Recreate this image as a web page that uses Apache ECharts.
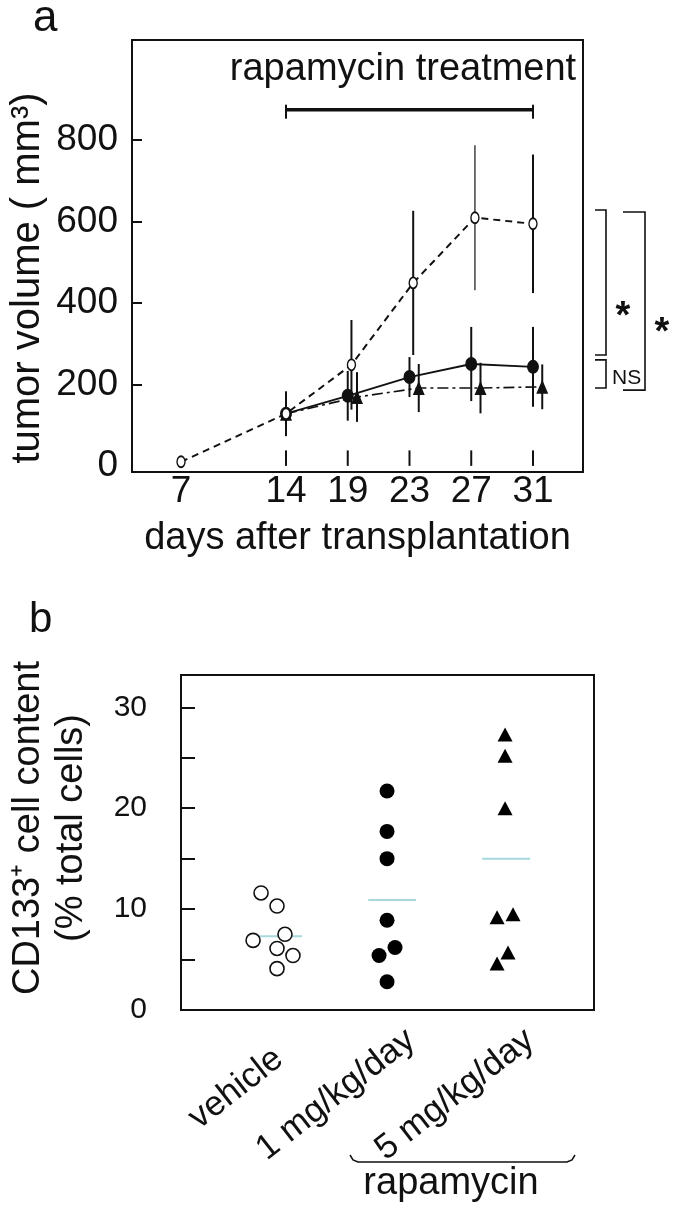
<!DOCTYPE html>
<html><head><meta charset="utf-8">
<script src="https://cdn.jsdelivr.net/npm/echarts@6/dist/echarts.min.js"></script>
<style>html,body{margin:0;padding:0;background:#fff}#c{width:679px;height:1213px}</style>
</head><body><div id="c"></div>
<script>
// ================= DATA =================
// ---- Panel a: tumor volume (mm3) vs days after transplantation ----
const dayLabels = ['7', '14', '19', '23', '27', '31'];
// ordinal position of each day on the figure's x axis (14..31 evenly spaced, wider gap 7 -> 14)
const dayAxisPos = [-1.7, 0, 1, 2, 3, 4];
const vehicleMean = [10, 128, 248, 449, 609, 594];
const vehicleSD   = [null, 55, 110, 177, 178, 170];
const rapa1Mean   = [null, 128, 172, 218, 250, 243];
const rapa1SD     = [null, null, 61, 49, 91, 98];
const rapa5Mean   = [null, 128, 169, 191, 191, 194];
const rapa5SD     = [null, null, 61, 59, 62, 55];
const volumeTickLabels = [0, 200, 400, 600, 800];
const treatmentDays = ['14', '31'];
const treatmentLevel = 874;            // mm3 level of the treatment bar
// significance brackets: [top, bottom] in mm3
const bracketVehVsRapa1 = [628, 272];
const bracketRapa1VsRapa5 = [260, 191];
const bracketVehVsRapa5 = [623, 186];
const sigLabels = [
  { text: '*', level: 387, bracket: 0 },
  { text: '*', level: 346, bracket: 2 },
  { text: 'NS', level: 216, bracket: 1 }
];

// ---- Panel b: CD133+ cell content (% total cells) ----
const groupLabels = ['vehicle', '1 mg/kg/day', '5 mg/kg/day'];
const cd133Vehicle = [11.6, 10.3, 7.5, 6.9, 6.1, 5.4, 4.1];
const cd133Rapa1   = [21.7, 17.7, 15.0, 8.9, 6.2, 5.4, 2.8];
const cd133Rapa5   = [27.3, 25.2, 20.0, 9.5, 9.2, 5.7, 4.6];
const cd133Means   = [7.3, 10.9, 15.0];
const cd133TickLabels = [0, 10, 20, 30];
const cd133MinorTicks = [5, 10, 15, 20, 25, 30];

// ================= STYLE / LAYOUT =================
const FONT = '"Liberation Sans", Arial, Helvetica, sans-serif';
const INK = '#111';
// horizontal display offsets (dodging) in axis units
const vehicleDodge = [0, 0, 0.06, 0.06, 0.06, 0];
const rapa1Dodge   = [0, 0, 0, 0, 0, 0];
const rapa5Dodge   = [0, 0, 0.15, 0.15, 0.15, 0.15];
const vehicleBarW  = [2, 2, 2, 2, 1.2, 2];
const jitterVehicle = [-0.14, 0, 0.07, -0.21, 0, 0.14, 0];
const jitterRapa1   = [-0.035, -0.035, -0.035, -0.035, 0.035, -0.105, -0.035];
const jitterRapa5   = [0, 0, 0, 0.07, -0.07, 0.026, -0.07];

function linePts(mean, dodge) {
  return mean.map((m, i) => m == null ? null : [dayAxisPos[i] + dodge[i], m]).filter(Boolean);
}
const errData = [];
function addErr(mean, sd, dodge, w) {
  mean.forEach((m, i) => {
    if (m != null && sd[i] != null) errData.push([dayAxisPos[i] + dodge[i], m - sd[i], m + sd[i], w[i] || 2]);
  });
}
addErr(rapa1Mean, rapa1SD, rapa1Dodge, [2, 2, 2, 2, 2, 2]);
addErr(rapa5Mean, rapa5SD, rapa5Dodge, [2, 2, 2, 2, 2, 2]);
addErr(vehicleMean, vehicleSD, vehicleDodge, vehicleBarW);

function scatterPts(vals, jit, g) { return vals.map((v, i) => [g + jit[i], v]); }
function posOfDay(d) { return dayAxisPos[dayLabels.indexOf(d)]; }

const chart = echarts.init(document.getElementById('c'), null, { renderer: 'canvas', width: 679, height: 1213 });

const option = {
  animation: false,
  backgroundColor: '#fff',
  textStyle: { fontFamily: FONT, color: INK },
  grid: [
    { left: 132, top: 40, right: 96, bottom: 741, show: true, borderColor: INK, borderWidth: 2, backgroundColor: 'transparent' },
    { left: 181, top: 675, right: 85, bottom: 203, show: true, borderColor: INK, borderWidth: 2, backgroundColor: 'transparent' }
  ],
  xAxis: [
    {
      type: 'value', gridIndex: 0, min: -2.494, max: 4.81,
      axisLine: { show: false, onZero: false }, splitLine: { show: false }, axisTick: { show: false },
      axisLabel: {
        customValues: dayAxisPos, margin: 1, fontSize: 37, color: INK, fontFamily: FONT,
        formatter: v => {
          let bi = 0; dayAxisPos.forEach((p, i) => { if (Math.abs(p - v) < Math.abs(dayAxisPos[bi] - v)) bi = i; });
          return dayLabels[bi];
        }
      },
      name: 'days after transplantation', nameLocation: 'middle', nameGap: 48,
      nameTextStyle: { fontSize: 38, color: INK, fontFamily: FONT }
    },
    {
      type: 'value', gridIndex: 1, min: 0.158, max: 3.78,
      axisLine: { show: false, onZero: false }, splitLine: { show: false }, axisTick: { show: false }, axisLabel: { show: false }
    }
  ],
  yAxis: [
    {
      type: 'value', gridIndex: 0, min: -15, max: 1045,
      axisLine: { show: false, onZero: false }, splitLine: { show: false },
      axisTick: { show: true, inside: true, length: 10, lineStyle: { color: INK, width: 2 }, customValues: volumeTickLabels.filter(v => v > 0) },
      axisLabel: { customValues: volumeTickLabels, margin: 14, fontSize: 37, color: INK, fontFamily: FONT }
    },
    {
      type: 'value', gridIndex: 1, min: 0, max: 33.2,
      axisLine: { show: false, onZero: false }, splitLine: { show: false },
      axisTick: { show: true, inside: true, length: 14, lineStyle: { color: INK, width: 2 }, customValues: cd133MinorTicks },
      axisLabel: { customValues: cd133TickLabels, margin: 34, fontSize: 30, color: INK, fontFamily: FONT }
    }
  ],
  series: [
    // x-axis tick dashes (floating above the axis line)
    {
      type: 'custom', xAxisIndex: 0, yAxisIndex: 0, silent: true,
      data: dayAxisPos.slice(1).map(p => [p, 0, 38]),
      renderItem: (params, api) => {
        const a = api.coord([api.value(0), api.value(1)]), b = api.coord([api.value(0), api.value(2)]);
        return { type: 'line', shape: { x1: a[0], y1: a[1], x2: b[0], y2: b[1] }, style: { stroke: INK, lineWidth: 2 } };
      }
    },
    // treatment bar
    {
      type: 'custom', xAxisIndex: 0, yAxisIndex: 0, silent: true,
      data: [[posOfDay(treatmentDays[0]), posOfDay(treatmentDays[1]), treatmentLevel]],
      renderItem: (params, api) => {
        const a = api.coord([api.value(0), api.value(2)]), b = api.coord([api.value(1), api.value(2)]);
        return { type: 'group', children: [
          { type: 'line', shape: { x1: a[0], y1: a[1], x2: b[0], y2: b[1] }, style: { stroke: INK, lineWidth: 3.5 } },
          { type: 'line', shape: { x1: a[0], y1: a[1] - 5, x2: a[0], y2: a[1] + 9 }, style: { stroke: INK, lineWidth: 2 } },
          { type: 'line', shape: { x1: b[0], y1: b[1] - 5, x2: b[0], y2: b[1] + 9 }, style: { stroke: INK, lineWidth: 2 } }
        ] };
      }
    },
    // error bars
    {
      type: 'custom', xAxisIndex: 0, yAxisIndex: 0, silent: true,
      data: errData, encode: { x: 0, y: [1, 2] },
      renderItem: (params, api) => {
        const a = api.coord([api.value(0), api.value(1)]), b = api.coord([api.value(0), api.value(2)]);
        return { type: 'line', shape: { x1: a[0], y1: a[1], x2: b[0], y2: b[1] }, style: { stroke: INK, lineWidth: api.value(3) } };
      }
    },
    {
      name: 'rapamycin 5 mg/kg/day', type: 'line', xAxisIndex: 0, yAxisIndex: 0,
      data: linePts(rapa5Mean, rapa5Dodge),
      lineStyle: { color: INK, width: 1.6, type: [11, 4, 3, 4] },
      symbol: 'triangle', symbolSize: [12, 14], itemStyle: { color: INK, opacity: 1 },
      showSymbol: true, z: 3
    },
    {
      name: 'rapamycin 1 mg/kg/day', type: 'line', xAxisIndex: 0, yAxisIndex: 0,
      data: linePts(rapa1Mean, rapa1Dodge),
      lineStyle: { color: INK, width: 1.8, type: 'solid' },
      symbol: 'circle', symbolSize: [12, 14], itemStyle: { color: INK, opacity: 1 },
      z: 4
    },
    {
      name: 'vehicle', type: 'line', xAxisIndex: 0, yAxisIndex: 0,
      data: linePts(vehicleMean, vehicleDodge),
      lineStyle: { color: INK, width: 2, type: [7, 5] },
      symbol: 'circle', symbolSize: [8, 11], itemStyle: { color: '#fff', borderColor: INK, borderWidth: 1.6, opacity: 1 },
      z: 5
    },
    // panel b: group mean lines
    {
      type: 'custom', xAxisIndex: 1, yAxisIndex: 1, silent: true,
      data: cd133Means.map((m, i) => [i + 1, m]),
      renderItem: (params, api) => {
        const a = api.coord([api.value(0) - 0.2, api.value(1)]), b = api.coord([api.value(0) + 0.22, api.value(1)]);
        return { type: 'line', shape: { x1: a[0], y1: a[1], x2: b[0], y2: b[1] }, style: { stroke: '#a6d8dc', lineWidth: 2 } };
      }
    },
    {
      name: 'vehicle', type: 'scatter', xAxisIndex: 1, yAxisIndex: 1,
      data: scatterPts(cd133Vehicle, jitterVehicle, 1),
      symbol: 'circle', symbolSize: 14, itemStyle: { color: '#fff', borderColor: INK, borderWidth: 1.6, opacity: 1 }
    },
    {
      name: '1 mg/kg/day', type: 'scatter', xAxisIndex: 1, yAxisIndex: 1,
      data: scatterPts(cd133Rapa1, jitterRapa1, 2),
      symbol: 'circle', symbolSize: 15, itemStyle: { color: '#000', opacity: 1 }
    },
    {
      name: '5 mg/kg/day', type: 'scatter', xAxisIndex: 1, yAxisIndex: 1,
      data: scatterPts(cd133Rapa5, jitterRapa5, 3),
      symbol: 'triangle', symbolSize: [15, 14], itemStyle: { color: '#000', opacity: 1 }
    }
  ]
};
chart.setOption(option);

// ================= ANNOTATIONS =================
function yA(v) { return chart.convertToPixel({ gridIndex: 0 }, [0, v])[1]; }
function xB(v) { return chart.convertToPixel({ gridIndex: 1 }, [v, 0])[0]; }
const gridARight = 583;
const brackets = [
  { vals: bracketVehVsRapa1, tip: gridARight + 12, spine: gridARight + 23 },
  { vals: bracketRapa1VsRapa5, tip: gridARight + 12, spine: gridARight + 23 },
  { vals: bracketVehVsRapa5, tip: gridARight + 40, spine: gridARight + 62 }
];
const g = [];
brackets.forEach(b => {
  const y1 = yA(b.vals[0]), y2 = yA(b.vals[1]);
  g.push({ type: 'polyline', shape: { points: [[b.tip, y1], [b.spine, y1], [b.spine, y2], [b.tip, y2]] },
           style: { stroke: INK, lineWidth: 1.6, fill: null } });
});
sigLabels.forEach(s => {
  const b = brackets[s.bracket];
  const isStar = s.text === '*';
  g.push({ type: 'text', x: b.spine + (isStar ? 17 : 6), y: yA(s.level) + (isStar ? 9 : 0),
           style: { text: s.text, fontSize: isStar ? 38 : 21, fontWeight: isStar ? 'bold' : 'normal', fontFamily: FONT, fill: INK,
                    align: isStar ? 'center' : 'left', verticalAlign: 'middle' } });
});
// panel letters and titles
g.push({ type: 'text', x: 33, y: 19, style: { text: 'a', fontSize: 44, fontFamily: FONT, fill: INK, align: 'left', verticalAlign: 'middle' } });
g.push({ type: 'text', x: 29, y: 620, style: { text: 'b', fontSize: 42, fontFamily: FONT, fill: INK, align: 'left', verticalAlign: 'middle' } });
g.push({ type: 'text', x: 403, y: 70, style: { text: 'rapamycin treatment', fontSize: 38, fontFamily: FONT, fill: INK, align: 'center', verticalAlign: 'middle' } });
g.push({ type: 'text', x: 28, y: 278, rotation: Math.PI / 2,
         style: { text: 'tumor volume ( mm³)', fontSize: 40, fontFamily: FONT, fill: INK, align: 'center', verticalAlign: 'middle' } });
g.push({ type: 'text', x: 50, y: 828, rotation: Math.PI / 2,
         style: { text: 'CD133⁺ cell content\n(% total cells)', fontSize: 38, lineHeight: 43, fontFamily: FONT, fill: INK, align: 'center', verticalAlign: 'middle' } });
// panel b category labels (rotated)
const labelShift = [[2, 45], [20, 26], [25, 26]];
groupLabels.forEach((t, i) => {
  g.push({ type: 'text', x: xB(i + 1) + labelShift[i][0], y: 1010 + labelShift[i][1], rotation: 38 * Math.PI / 180,
           style: { text: t, fontSize: 35, fontFamily: FONT, fill: INK, align: 'right', verticalAlign: 'middle' } });
});
// brace grouping the rapamycin doses
g.push({ type: 'polyline', shape: { points: [[350, 1155], [353, 1160], [358, 1162], [567, 1162], [572, 1160], [575, 1155]] },
         style: { stroke: INK, lineWidth: 1.5, fill: null } });
g.push({ type: 'text', x: 451, y: 1184, style: { text: 'rapamycin', fontSize: 38, fontFamily: FONT, fill: INK, align: 'center', verticalAlign: 'middle' } });

chart.setOption({ graphic: g });
</script>
</body></html>
